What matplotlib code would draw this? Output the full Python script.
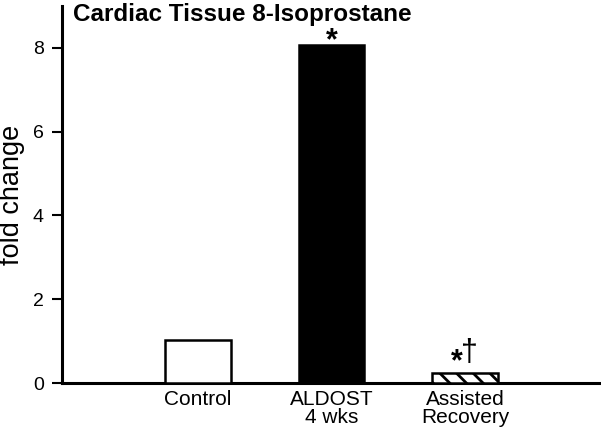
import numpy as np
from matplotlib import pyplot as plt

plt.rcParams['font.family'] = ['Liberation Sans', 'DejaVu Sans']
plt.rcParams['hatch.linewidth'] = 2.0

# data
groups = ["Control", "ALDOST\n4 wks", "Assisted\nRecovery"]
fold_change = [1.02, 8.07, 0.24]
marks = ["", "*", "*\u2020"]

fig = plt.figure(figsize=(6.01, 4.33), dpi=100)
ax = fig.add_axes([62/601, 50/433, 538/601, 377/433])

x = np.arange(len(groups))
bars = ax.bar(x, fold_change, width=0.49, edgecolor='black', linewidth=1.8,
              color=['white', 'black', 'white'], zorder=3)
bars[2].set_hatch('\\\\')

# significance marks: asterisk centred over bar, dagger to its right
for xi, v, m in zip(x, fold_change, marks):
    if m == "*":
        ax.text(xi, v + 0.08, "*", ha='center', va='center', fontsize=22,
                fontweight='bold')
    elif m:
        ax.text(xi - 0.065, v + 0.26, "*", ha='center', va='center', fontsize=22,
                fontweight='bold')
        ax.text(xi + 0.035, v + 0.48, "\u2020", ha='center', va='center',
                fontsize=22)

ax.set_xlim(-1.02, 3.01)
ax.set_ylim(0, 9)
ax.set_yticks([0, 2, 4, 6, 8])
ax.set_xticks(x)
ax.set_xticklabels(groups, fontsize=15, linespacing=0.95)
ax.tick_params(axis='x', length=0, pad=5)
ax.tick_params(axis='y', length=7, width=1.5, labelsize=14, pad=6)

for s in ['top', 'right']:
    ax.spines[s].set_visible(False)
for s in ['left', 'bottom']:
    ax.spines[s].set_linewidth(2.2)

ax.set_ylabel("fold change", fontsize=19.5, labelpad=6)
fig.text(73/601, 1 - 15/433, "Cardiac Tissue 8-Isoprostane", fontsize=17.5,
         fontweight='bold', va='center', ha='left')

fig.savefig("out.png", dpi=100)
